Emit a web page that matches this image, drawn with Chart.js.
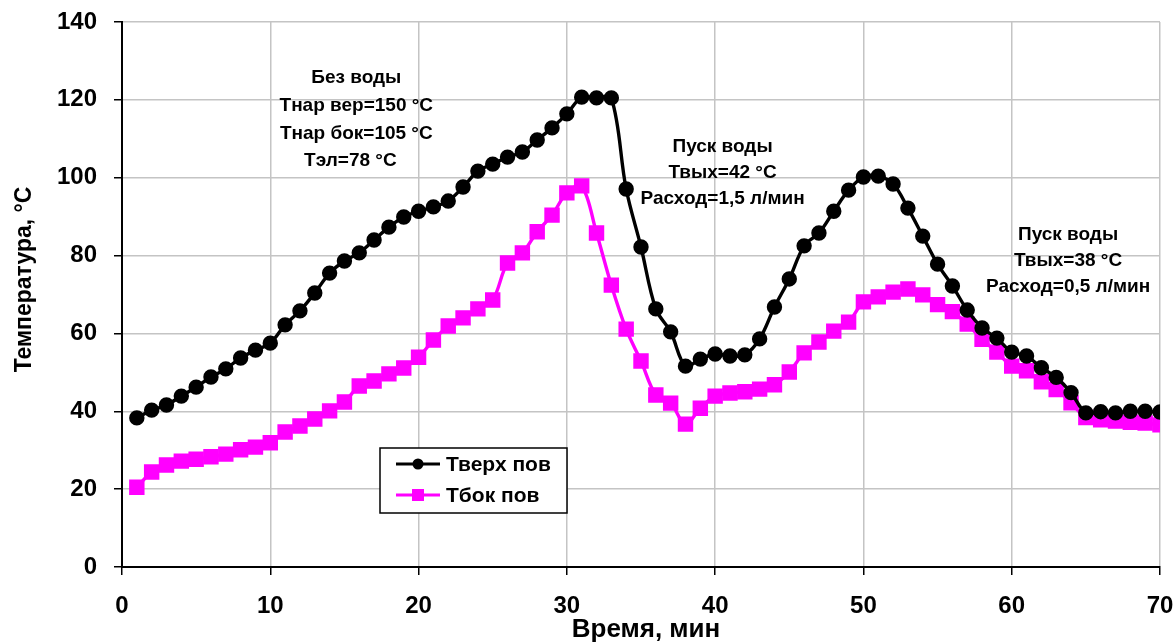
<!DOCTYPE html>
<html>
<head>
<meta charset="utf-8">
<script src="https://cdn.jsdelivr.net/npm/chart.js@4"></script>
<style>
  html, body { margin: 0; padding: 0; background: #fff; }
  #wrap { width: 1176px; height: 643px; }
</style>
</head>
<body>
<div id="wrap"><canvas id="tempChart" width="1176" height="643"></canvas></div>
<script>
// time, minutes
const minutes = [];
for (let m = 1; m <= 70; m++) minutes.push(m);

// Тверх пов
const topSurface = [38.3, 40.3, 41.6, 43.9, 46.2, 48.8, 50.9, 53.7, 55.7, 57.5,
  62.2, 65.8, 70.4, 75.5, 78.6, 80.7, 84.0, 87.3, 89.9, 91.4,
  92.5, 94.0, 97.6, 101.7, 103.5, 105.3, 106.6, 109.7, 112.8, 116.4,
  120.7, 120.5, 120.5, 97.1, 82.2, 66.3, 60.4, 51.6, 53.4, 54.7,
  54.2, 54.5, 58.6, 66.8, 74.0, 82.5, 85.8, 91.4, 96.8, 100.2,
  100.4, 98.4, 92.2, 85.0, 77.8, 72.2, 66.0, 61.4, 58.8, 55.2,
  54.2, 51.2, 48.7, 44.8, 39.6, 39.9, 39.6, 40.0, 40.0, 39.8];

// Тбок пов
const sideSurface = [20.5, 24.4, 26.2, 27.2, 27.7, 28.3, 29.0, 30.1, 30.8, 31.9,
  34.7, 36.2, 38.0, 40.1, 42.4, 46.5, 47.8, 49.6, 51.1, 53.9,
  58.3, 61.9, 64.0, 66.3, 68.6, 78.1, 80.7, 86.1, 90.4, 96.1,
  97.9, 85.8, 72.4, 61.1, 52.9, 44.2, 42.1, 36.7, 40.8, 43.9,
  44.7, 45.0, 45.7, 46.8, 50.1, 55.0, 57.8, 60.6, 62.9, 68.1,
  69.4, 70.6, 71.4, 69.9, 67.4, 65.6, 62.4, 58.5, 55.2, 51.6,
  50.4, 47.6, 45.6, 42.2, 38.4, 37.8, 37.5, 37.2, 37.0, 36.5];

const xTicks = [0, 10, 20, 30, 40, 50, 60, 70];
const yTicks = [0, 20, 40, 60, 80, 100, 120, 140];

// notes on the plot: [x, y, text]
const notes = [
  [15.8, 125.6, 'Без воды'],
  [15.8, 118.5, 'Тнар вер=150 °C'],
  [15.8, 111.4, 'Тнар бок=105 °C'],
  [15.4, 104.4, 'Тэл=78 °C'],
  [40.5, 107.9, 'Пуск воды'],
  [40.5, 101.2, 'Твых=42 °C'],
  [40.5, 94.5, 'Расход=1,5 л/мин'],
  [63.8, 85.3, 'Пуск воды'],
  [63.8, 78.6, 'Твых=38 °C'],
  [63.8, 71.9, 'Расход=0,5 л/мин']
];

const FONT = '"Liberation Sans", Arial, sans-serif';

const notesPlugin = {
  id: 'notes',
  afterDatasetsDraw(chart) {
    const ctx = chart.ctx;
    const xs = chart.scales.x, ys = chart.scales.y;
    const a = chart.chartArea;
    ctx.save();
    ctx.font = 'bold 19px ' + FONT;
    ctx.fillStyle = '#000';
    ctx.textAlign = 'center';
    ctx.textBaseline = 'middle';
    notes.forEach(n => ctx.fillText(n[2], xs.getPixelForValue(n[0]), ys.getPixelForValue(n[1])));

    // axis titles
    ctx.font = 'bold 26px ' + FONT;
    ctx.fillText('Время, мин', (a.left + a.right) / 2 + 5, 630);
    ctx.save();
    ctx.translate(25, (a.top + a.bottom) / 2 - 15);
    ctx.rotate(-Math.PI / 2);
    ctx.font = 'bold 23px ' + FONT;
    ctx.fillText('Температура, °C', 0, 0);
    ctx.restore();

    // legend box inside plot
    const bx = a.left + 258, by = 448, bw = 187, bh = 65;
    ctx.fillStyle = '#fff';
    ctx.fillRect(bx, by, bw, bh);
    ctx.strokeStyle = '#000';
    ctx.lineWidth = 1.5;
    ctx.strokeRect(bx, by, bw, bh);
    ctx.font = 'bold 21px ' + FONT;
    ctx.textAlign = 'left';
    chart.data.datasets.forEach((ds, i) => {
      const y = by + 16 + i * 31;
      ctx.strokeStyle = ds.borderColor;
      ctx.lineWidth = 3;
      ctx.beginPath();
      ctx.moveTo(bx + 16, y);
      ctx.lineTo(bx + 60, y);
      ctx.stroke();
      ctx.fillStyle = ds.backgroundColor;
      if (ds.pointStyle === 'rect') {
        ctx.fillRect(bx + 32, y - 6, 12, 12);
      } else {
        ctx.beginPath();
        ctx.arc(bx + 38, y, 5.5, 0, Math.PI * 2);
        ctx.fill();
      }
      ctx.fillStyle = '#000';
      ctx.fillText(ds.label, bx + 66, y + 1);
    });
    ctx.restore();
  }
};

new Chart(document.getElementById('tempChart').getContext('2d'), {
  type: 'line',
  data: {
    datasets: [{
      label: 'Тверх пов',
      data: minutes.map((m, i) => ({ x: m, y: topSurface[i] })),
      borderColor: '#000000',
      backgroundColor: '#000000',
      borderWidth: 3.4,
      pointStyle: 'circle',
      pointRadius: 6,
      tension: 0.35
    }, {
      label: 'Тбок пов',
      data: minutes.map((m, i) => ({ x: m, y: sideSurface[i] })),
      borderColor: '#ff00ff',
      backgroundColor: '#ff00ff',
      borderWidth: 3.4,
      pointStyle: 'rect',
      pointRadius: 8.5,
      tension: 0.35
    }]
  },
  options: {
    responsive: false,
    animation: false,
    layout: { padding: { top: 22, right: 16, left: 0, bottom: 0 } },
    plugins: { legend: { display: false }, tooltip: { enabled: false } },
    scales: {
      x: {
        type: 'linear',
        min: 0, max: 70,
        afterBuildTicks: s => { s.ticks = xTicks.map(v => ({ value: v })); },
        afterFit: s => { s.height = 76; s.paddingLeft = 0; s.paddingRight = 0; },
        grid: { color: '#c4c4c4', lineWidth: 1.5, tickColor: '#000', tickLength: 8 },
        border: { color: '#000', width: 2 },
        ticks: { color: '#000', font: { family: FONT, size: 24, weight: 'bold' }, padding: 17, maxRotation: 0 }
      },
      y: {
        min: 0, max: 140,
        afterBuildTicks: s => { s.ticks = yTicks.map(v => ({ value: v })); },
        afterFit: s => { s.width = 122; s.paddingTop = 0; s.paddingBottom = 0; },
        grid: { color: '#c4c4c4', lineWidth: 1.5, tickColor: '#000', tickLength: 8 },
        border: { color: '#000', width: 2 },
        ticks: { color: '#000', font: { family: FONT, size: 24, weight: 'bold' }, padding: 17 }
      }
    }
  },
  plugins: [notesPlugin]
});
</script>
</body>
</html>
